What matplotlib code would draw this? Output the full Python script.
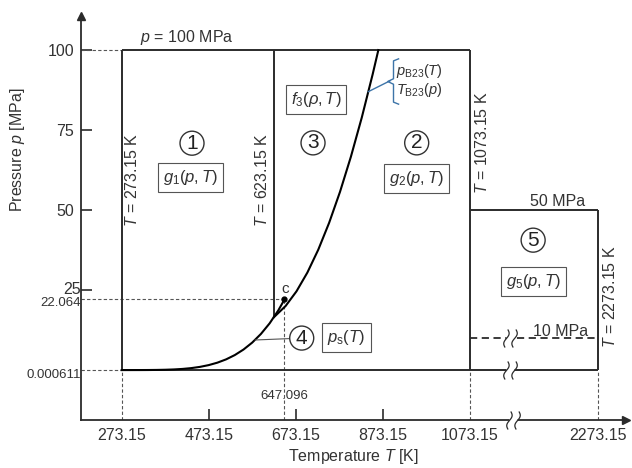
import numpy as np
import matplotlib.pyplot as plt
from matplotlib.path import Path
from matplotlib.transforms import ScaledTranslation

plt.rcParams['font.family'] = ['Liberation Sans', 'DejaVu Sans']
plt.rcParams['mathtext.fontset'] = 'custom'
plt.rcParams['mathtext.rm'] = 'Liberation Sans'
plt.rcParams['mathtext.it'] = 'Liberation Sans:italic'

# saturation line p_s(T)  (T in K, p in MPa)
sat_T = [273.16, 293.15, 313.15, 333.15, 353.15, 373.15, 393.15, 413.15, 433.15,
         453.15, 473.15, 493.15, 513.15, 533.15, 553.15, 573.15, 593.15, 613.15,
         633.15, 643.15, 647.096]
sat_p = [0.000611, 0.00234, 0.00738, 0.0199, 0.0474, 0.1014, 0.1985, 0.3615, 0.6182,
         1.0028, 1.5549, 2.3196, 3.3469, 4.6923, 6.4166, 8.5879, 11.284, 14.594,
         18.651, 21.043, 22.064]

# boundary between region 2 and 3
b23_T = [623.15, 650, 675, 700, 725, 750, 775, 800, 825, 850, 863.15]
b23_p = [16.529, 20.034, 24.619, 30.478, 37.609, 46.017, 55.698, 66.653, 78.883, 92.386, 100.0]

# region limits
T_min, T_13, T_25, T_max = 273.15, 623.15, 1073.15, 2273.15
p_min, p_max, p_5, p_5low = 0.000611, 100.0, 50.0, 10.0
T_c, p_c = 647.096, 22.064

xtick_T = [273.15, 473.15, 673.15, 873.15, 1073.15, 2273.15]
xtick_labels = ['273.15', '473.15', '673.15', '873.15', '1073.15', '2273.15']
ytick_p = [25, 50, 75, 100]
yminor_p = [p_min, p_c]
yminor_labels = ['0.000611', '22.064']

BREAK = 0.246  # compression of the axis above 1073.15 K


def tx(T):
    T = np.asarray(T, dtype=float)
    return np.where(T <= T_25, T, T_25 + (T - T_25) * BREAK)


line = '#2b2b2b'
txt = '#333333'
guide = dict(color='#555555', lw=0.8, ls=(0, (3, 2)))

fig = plt.figure(figsize=(6.32, 4.68), dpi=100)
ax = fig.add_axes([81 / 632, 48 / 468, 545 / 632, 404 / 468])
ax.set_xlim(179.6, 179.6 + 545 / 0.435)
ax.set_ylim(-15.6, 110.65)

# guide lines
x0 = ax.get_xlim()[0]
y0 = ax.get_ylim()[0]
ax.plot([x0, tx(T_min)], [p_max, p_max], **guide)
ax.plot([x0, tx(T_c)], [p_c, p_c], **guide)
ax.plot([x0, tx(T_min)], [p_min, p_min], **guide)
for T, p in [(T_min, p_min), (T_c, p_c), (T_25, p_min), (T_max, p_min)]:
    ax.plot([tx(T), tx(T)], [y0, p], **guide)

# region borders
kw = dict(color=line, lw=1.4, solid_capstyle='butt')
ax.plot(tx([T_min, T_min]), [p_min, p_max], **kw)
ax.plot(tx([T_min, T_25]), [p_max, p_max], **kw)
ax.plot(tx([T_13, T_13]), [b23_p[0], p_max], **kw)
ax.plot(tx([T_25, T_25]), [p_min, p_max], **kw)
ax.plot(tx([T_min, T_max]), [p_min, p_min], **kw)
ax.plot(tx([T_25, T_max]), [p_5, p_5], **kw)
ax.plot(tx([T_max, T_max]), [p_min, p_5], **kw)
ax.plot(tx([T_25, T_max]), [p_5low, p_5low], color=line, lw=1.3, ls=(0, (4, 2.5)))

ax.plot(tx(sat_T), sat_p, color='black', lw=1.5)
ax.plot(tx(b23_T), b23_p, color='black', lw=1.5)
ax.plot(tx(T_c), p_c, 'o', color='black', ms=3.5)
ax.text(tx(T_c) + 1.5, 25.2, 'c', fontsize=11, color=txt, ha='center', va='center')

# axis break marks
yy = np.linspace(-1, 1, 20)
xx = 0.22 * np.sin(np.pi * yy) + 0.15 * yy
verts = list(zip(xx - 0.45, yy)) + list(zip(xx + 0.45, yy))
codes = ([Path.MOVETO] + [Path.LINETO] * 19) * 2
wave = Path(verts, codes)
for bx, by in [(1166, p_min), (1166, p_5low), (1172.7, y0)]:
    ax.plot(bx, by, 's', ms=6, mfc='white', mec='none', clip_on=False, zorder=4)
    ax.plot(bx, by, marker=wave, ms=13, mfc='none', mec=line, mew=0.9,
            ls='none', clip_on=False, zorder=5)


def circ(x, y, s):
    ax.text(x, y, s, fontsize=15, color='#222222', ha='center', va='center', zorder=6,
            bbox=dict(boxstyle='circle,pad=0.12', fc='white', ec='#333333', lw=1.0))


def boxed(x, y, s):
    ax.text(x, y, s, fontsize=12, color=txt, ha='center', va='center', zorder=6,
            bbox=dict(boxstyle='square,pad=0.3', fc='white', ec='#555555', lw=0.8))


def vlabel(x, y, s):
    ax.text(x, y, s, fontsize=11.5, color=txt, ha='center', va='center', rotation=90)


# leader lines
ax.plot([580, 687], [9.4, 10.0], color='#555555', lw=0.8)
blue = '#3d74a8'
ax.plot([840, 890], [87.0, 90.4], color=blue, lw=1.0)
brace = Path([(0.25, 1), (0, 0.9), (0, 0.12), (-0.25, 0), (0, -0.12), (0, -0.9), (0.25, -1)])
ax.plot(896, 90.4, marker=brace, ms=33, mfc='none', mec=blue, mew=1.0, ls='none')
ax.text(903, 93.4, r'$p_{\mathrm{B23}}(T)$', fontsize=10.5, color=txt, ha='left', va='center')
ax.text(903, 87.4, r'$T_{\mathrm{B23}}(p)$', fontsize=10.5, color=txt, ha='left', va='center')

circ(434.8, 70.9, '1')
boxed(431.8, 60.3, r'$g_1(p,T)$')
circ(713, 71.0, '3')
boxed(719.8, 84.4, r'$f_3(\rho,T)$')
circ(951.3, 71.0, '2')
boxed(951.3, 60.0, r'$g_2(p,T)$')
circ(687, 10.0, '4')
boxed(790, 10.3, r'$p_\mathrm{s}(T)$')
circ(1219, 40.6, '5')
boxed(1219, 27.6, r'$g_5(p,T)$')

vlabel(296, 59.4, r'$T$ = 273.15 K')
vlabel(595, 59.4, r'$T$ = 623.15 K')
vlabel(1100.7, 71.0, r'$T$ = 1073.15 K')
vlabel(1395.7, 22.8, r'$T$ = 2273.15 K')

ax.text(423, 103.9, r'$p$ = 100 MPa', fontsize=11.5, color=txt, ha='center', va='center')
ax.text(1276, 52.8, '50 MPa', fontsize=11.5, color=txt, ha='center', va='center')
ax.text(1281, 12.1, '10 MPa', fontsize=11.5, color=txt, ha='center', va='center')
ax.text(tx(T_c), -8.1, '647.096', fontsize=9.5, color=txt, ha='center', va='center')

# axes
for s in ['top', 'right']:
    ax.spines[s].set_visible(False)
for s in ['left', 'bottom']:
    ax.spines[s].set_color(line)
    ax.spines[s].set_linewidth(1.3)
ax.plot(1, 0, '>', color=line, ms=6, transform=ax.transAxes, clip_on=False)
ax.plot(0, 1, '^', color=line, ms=6, transform=ax.transAxes, clip_on=False)

ax.set_xticks(tx(xtick_T), xtick_labels)
ax.set_yticks(ytick_p, [str(v) for v in ytick_p])
ax.set_yticks(yminor_p, yminor_labels, minor=True)
ax.tick_params(axis='both', which='major', direction='in', length=8, width=1.2,
               color=line, labelcolor=txt, labelsize=11.5)
ax.tick_params(axis='x', pad=6)
ax.tick_params(axis='y', which='major', pad=5)
ax.tick_params(axis='y', which='minor', length=0, pad=5, labelsize=9.5, labelcolor=txt)
for i, t in enumerate(ax.xaxis.get_major_ticks()):
    if xtick_labels[i] in ('273.15', '1073.15', '2273.15'):
        t.tick1line.set_visible(False)

# nudge labels as in the original
ax.yaxis.get_major_ticks()[0].label1.set_transform(
    ax.get_yaxis_transform(which='tick1') + ScaledTranslation(0, 2 / 100, fig.dpi_scale_trans))
for lab, dy in zip([t.label1 for t in ax.yaxis.get_minor_ticks()], [-3, -2]):
    lab.set_transform(ax.get_yaxis_transform(which='tick1')
                      + ScaledTranslation(0, dy / 100, fig.dpi_scale_trans))

ax.set_xlabel(r'Temperature $T$ [K]', fontsize=11.5, color=txt, labelpad=3)
fig.text(18 / 632, 1 - 150 / 468, r'Pressure $p$ [MPa]', fontsize=11.5, color=txt,
         rotation=90, ha='center', va='center')

fig.savefig('out.png', dpi=100)
